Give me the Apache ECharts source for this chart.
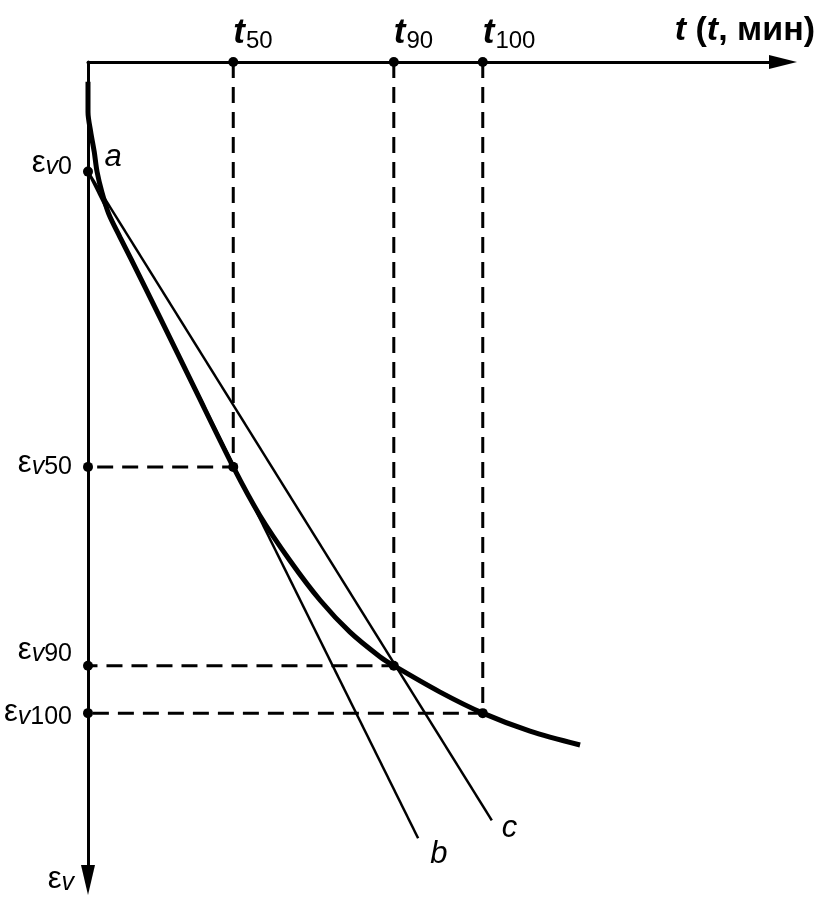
<!DOCTYPE html>
<html>
<head>
    <meta charset="UTF-8">
    <title></title>
    <style>
        html, body { margin: 0; padding: 0; background: #fff; }
    </style>
</head>
<body>
<div id="main" style="width: 825px;height:907px;"></div>
<script type="text/javascript" src="https://cdn.jsdelivr.net/npm/echarts@6/dist/echarts.min.js"></script>
<script type="text/javascript">
    // characteristic times on the t axis and their subscripts
    var tValues = [20.9, 44.0, 56.8];
    var tSubs = ['50', '90', '100'];
    // strain levels on the εv axis
    var eValues = [13.4, 49.5, 73.8, 79.6];
    var eSubs = ['0', '50', '90', '100'];
    // consolidation curve (t, εv)
    var curveT = [0, 0, 0.4, 0.9, 1.3, 2.0, 3.0, 4.6, 6.2, 10.4, 15.4, 20.9, 24.7, 29.1, 33.4, 37.7, 42.0, 44.0, 50.6, 56.8, 63.6, 70.8];
    var curveE = [2.4, 6.1, 8.6, 11.0, 13.4, 15.9, 18.6, 21.4, 24.1, 31.3, 40.0, 49.5, 55.4, 61.0, 65.8, 69.7, 72.7, 73.8, 77.0, 79.6, 81.8, 83.5];
    // straight lines b and c, both starting at εv0
    var lineB = [[0, 13.4], [47.5, 94.9]];
    var lineC = [[0, 13.4], [58.1, 92.7]];

    var font = 'Liberation Sans, Arial, sans-serif';
    var black = '#000';

    function near(a, b) { return Math.abs(a - b) < 0.01; }

    var curveData = curveT.map(function (t, i) { return [t, curveE[i]]; });

    // dashed guides: (t, 0) -> (t, εv) -> (0, εv) for 50, 90, 100
    var guideSeries = [];
    var dots = [];
    for (var i = 0; i < tValues.length; i++) {
        var ev = eValues[i + 1];
        guideSeries.push({
            type: 'line',
            data: [[tValues[i], 0], [tValues[i], ev], [0, ev]],
            showSymbol: false,
            clip: false,
            silent: true,
            lineStyle: { color: black, width: 3, type: [16, 9] },
            z: 2
        });
        dots.push([tValues[i], 0]);
        dots.push([tValues[i], ev]);
    }
    eValues.forEach(function (e, i) {
        if (i === 0) {
            dots.push({
                value: [0, e],
                label: { show: true, formatter: 'a', offset: [25, -14] }
            });
        } else {
            dots.push([0, e]);
        }
    });

    // how far each εv label is lifted above its tick (via an empty second line)
    var liftKey = { '0': 'g2', '50': 'g1', '90': 'g3', '100': 'g0' };

    var myChart = echarts.init(document.getElementById('main'));

    var letterStyle = {
        show: true,
        color: black,
        fontFamily: font,
        fontStyle: 'italic',
        fontSize: 31
    };

    var epsRich = {
        e: { fontFamily: font, fontSize: 31, color: black, lineHeight: 28, verticalAlign: 'top' },
        v: { fontFamily: font, fontSize: 25, fontStyle: 'italic', color: black, lineHeight: 24, padding: [7, 0, 0, 0], verticalAlign: 'top' },
        n: { fontFamily: font, fontSize: 25, color: black, lineHeight: 24, padding: [7, 0, 0, 0], verticalAlign: 'top' },
        g0: { fontSize: 1, lineHeight: 4 },
        g1: { fontSize: 1, lineHeight: 10 },
        g2: { fontSize: 1, lineHeight: 20 },
        g3: { fontSize: 1, lineHeight: 34 }
    };

    var option = {
        animation: false,
        backgroundColor: '#fff',
        grid: { left: 88, right: 42, top: 62, bottom: 27 },
        xAxis: {
            type: 'value',
            position: 'top',
            min: 0,
            max: 100,
            splitLine: { show: false },
            axisTick: { show: false },
            axisLine: {
                onZero: false,
                symbol: ['none', 'triangle'],
                symbolSize: [14, 28],
                lineStyle: { color: black, width: 3 }
            },
            axisLabel: {
                customValues: tValues,
                align: 'left',
                margin: 12,
                hideOverlap: false,
                formatter: function (v) {
                    for (var k = 0; k < tValues.length; k++) {
                        if (near(v, tValues[k])) return '{t|t}{s|' + tSubs[k] + '}';
                    }
                    return '';
                },
                rich: {
                    t: { fontFamily: font, fontSize: 35, fontWeight: 'bold', fontStyle: 'italic', color: black, lineHeight: 34, verticalAlign: 'top' },
                    s: { fontFamily: font, fontSize: 24, color: black, lineHeight: 24, padding: [13, 0, 0, 1], verticalAlign: 'top' }
                }
            },
            name: '{i|t} ({i|t}, мин)',
            nameLocation: 'end',
            nameGap: 32,
            nameTextStyle: {
                fontFamily: font,
                fontSize: 34,
                fontWeight: 'bold',
                color: black,
                align: 'right',
                verticalAlign: 'bottom',
                padding: [0, 0, 14, 0],
                rich: {
                    i: { fontFamily: font, fontSize: 34, fontWeight: 'bold', fontStyle: 'italic', color: black }
                }
            }
        },
        yAxis: {
            type: 'value',
            inverse: true,
            min: 0,
            max: 100,
            splitLine: { show: false },
            axisTick: { show: false },
            axisLine: {
                onZero: false,
                symbol: ['triangle', 'none'],
                symbolSize: [14, 30],
                lineStyle: { color: black, width: 3 }
            },
            axisLabel: {
                customValues: eValues,
                margin: 16,
                hideOverlap: false,
                formatter: function (v) {
                    for (var k = 0; k < eValues.length; k++) {
                        if (near(v, eValues[k])) {
                            return '{e|ε}{v|v}{n|' + eSubs[k] + '}\n{' + liftKey[eSubs[k]] + '| }';
                        }
                    }
                    return '';
                },
                rich: epsRich
            },
            name: '{e|ε}{v|v}',
            nameLocation: 'end',
            nameGap: -2,
            nameTextStyle: {
                align: 'right',
                verticalAlign: 'middle',
                padding: [0, 14, 0, 0],
                rich: epsRich
            }
        },
        series: guideSeries.concat([
            {
                name: 'curve',
                type: 'line',
                data: curveData,
                smooth: 0.3,
                showSymbol: false,
                clip: false,
                lineStyle: { color: black, width: 5 },
                z: 4
            },
            {
                name: 'b',
                type: 'line',
                data: lineB,
                showSymbol: false,
                clip: false,
                lineStyle: { color: black, width: 2.5 },
                endLabel: Object.assign({ formatter: 'b', offset: [4, 16] }, letterStyle),
                z: 3
            },
            {
                name: 'c',
                type: 'line',
                data: lineC,
                showSymbol: false,
                clip: false,
                lineStyle: { color: black, width: 2.5 },
                endLabel: Object.assign({ formatter: 'c', offset: [2, 8] }, letterStyle),
                z: 3
            },
            {
                name: 'dots',
                type: 'scatter',
                data: dots,
                symbolSize: 10,
                clip: false,
                itemStyle: { color: black, opacity: 1 },
                label: Object.assign({}, letterStyle, { show: false }),
                z: 5
            }
        ])
    };

    myChart.setOption(option);
</script>
</body>
</html>
